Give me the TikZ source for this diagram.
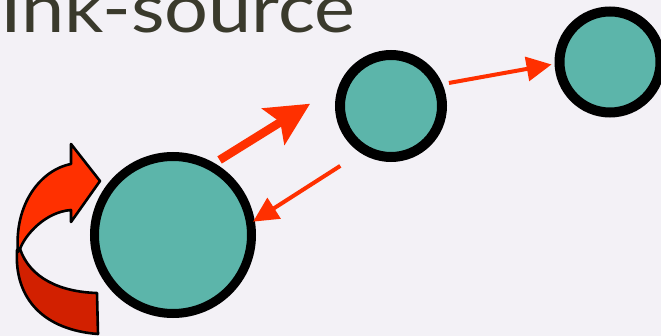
\documentclass[tikz,border=0pt]{standalone}
\usepackage{fontspec}
\setmainfont{Lato}
\usetikzlibrary{arrows.meta}
\definecolor{paper}{HTML}{F3F1F6}
\definecolor{teal}{HTML}{5CB5AA}
\definecolor{inkred}{HTML}{FF3000}
\definecolor{backred}{HTML}{D22000}
\definecolor{titlegray}{HTML}{3A3A2C}
\begin{document}
\begin{tikzpicture}[x=1pt,y=-1pt,
  drop/.style={circle,draw=black,fill=teal,line width=10pt,inner sep=0pt},
  flow/.style={draw=inkred,line width=4pt,
    -{Triangle[length=25pt,width=24pt]}},
  bigflow/.style={draw=inkred,line width=8.5pt,
    -{Stealth[length=43pt,width=42pt,inset=8pt]}},
  turn/.style={draw=black,line width=2.6pt,line join=round}]
  % canvas
  \fill[paper] (0,0) rectangle (661,336);
  \useasboundingbox (0,0) rectangle (661,336);

  % title
  \node[anchor=base west,inner sep=0pt,text=titlegray,xscale=1.14,
        font=\fontsize{68}{68}\selectfont]
    (title) at (0,33) {Ink-source};

  % ink drops
  \node[drop,line width=9pt,minimum size=157pt] (big) at (173,235) {};
  \node[drop,minimum size=102pt] (mid) at (391,106) {};
  \node[drop,minimum size=101pt] (far) at (610,62) {};

  % transfers between drops
  \draw[bigflow,shorten <=6pt,shorten >=33.7pt] (big.60) -- (mid.159);
  \draw[flow,shorten <=24pt,shorten >=-2pt] (mid.237) -- (big.10);
  \draw[flow,shorten <=6.5pt,shorten >=3pt] (mid.23) -- (far.182);

  % looping arrow: back face, then front face
  \filldraw[turn,fill=backred]
    (20,249) .. controls (30,278) and (60,292) .. (97,293)
    -- (98,334) .. controls (45,330) and (14,300) .. (17,250) -- cycle;
  \filldraw[turn,fill=inkred]
    (18,252) .. controls (14,205) and (40,170) .. (71,164)
    -- (71,144) -- (100,181) -- (71,222) -- (71,210)
    .. controls (45,212) and (25,235) .. (20,249) -- cycle;
\end{tikzpicture}
\end{document}
